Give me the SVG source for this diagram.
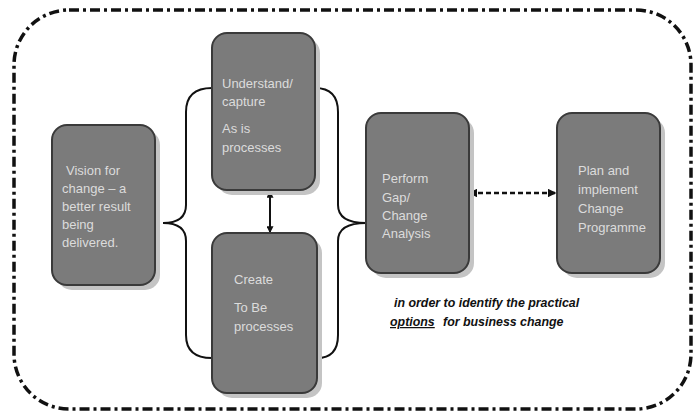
<svg xmlns="http://www.w3.org/2000/svg" width="694" height="413" viewBox="0 0 694 413">
<style>
.box{fill:#7b7b7b;stroke:#3a3a3a;stroke-width:2}
.sh{fill:#c4c4c4}
.t{font-family:"Liberation Sans",Arial,sans-serif;font-size:13px;fill:#dcdcdc}
.note{font-family:"Liberation Sans",Arial,sans-serif;font-size:12.4px;font-weight:bold;font-style:italic;fill:#111}
.br{fill:none;stroke:#111;stroke-width:2}
</style>
<defs>
<marker id="ah" viewBox="0 0 6 6" refX="5" refY="3" markerWidth="3.5" markerHeight="3.5" orient="auto-start-reverse">
<path d="M0,0 L6,3 L0,6 Z" fill="#111"/>
</marker>
</defs>
<rect x="14" y="10" width="677" height="399" rx="55" ry="55" fill="none" stroke="#111" stroke-width="3.5" stroke-dasharray="10 4 3 4"/>
<g id="connectors">
<path class="br" d="M212,88 Q186,88 186,112 L186,205 Q186,223 163,223 Q186,223 186,241 L186,335 Q186,358 212,358"/>
<path class="br" d="M315,88 Q338,88 338,112 L338,205 Q338,223 366,223 Q338,223 338,241 L338,335 Q338,358 317,358"/>
<line x1="270" y1="192" x2="270" y2="232" stroke="#111" stroke-width="2" marker-start="url(#ah)" marker-end="url(#ah)"/>
<line x1="470" y1="193" x2="555" y2="193" stroke="#111" stroke-width="2.5" stroke-dasharray="5 3" marker-start="url(#ah)" marker-end="url(#ah)"/>
</g>
<g id="vision">
<rect class="sh" x="57" y="130" width="103" height="160" rx="15"/>
<rect class="box" x="52" y="125" width="103" height="160" rx="15"/>
<text class="t" x="66" y="175">Vision for</text>
<text class="t" x="62" y="193">change  – a</text>
<text class="t" x="62" y="211">better result</text>
<text class="t" x="62" y="229">being</text>
<text class="t" x="62" y="247">delivered.</text>
</g>
<g id="understand">
<rect class="sh" x="217" y="38" width="103" height="157" rx="15"/>
<rect class="box" x="212" y="33" width="103" height="157" rx="15"/>
<text class="t" x="222" y="88">Understand/</text>
<text class="t" x="222" y="106">capture</text>
<text class="t" x="222" y="133">As is</text>
<text class="t" x="222" y="152">processes</text>
</g>
<g id="create">
<rect class="sh" x="217" y="238" width="105" height="160" rx="15"/>
<rect class="box" x="212" y="233" width="105" height="160" rx="15"/>
<text class="t" x="234" y="284">Create</text>
<text class="t" x="234" y="312">To Be</text>
<text class="t" x="234" y="331">processes</text>
</g>
<g id="perform">
<rect class="sh" x="371" y="118" width="103" height="160" rx="15"/>
<rect class="box" x="366" y="113" width="103" height="160" rx="15"/>
<text class="t" x="382" y="183">Perform</text>
<text class="t" x="382" y="202">Gap/</text>
<text class="t" x="382" y="220">Change</text>
<text class="t" x="382" y="238">Analysis</text>
</g>
<g id="plan">
<rect class="sh" x="562" y="118" width="103" height="160" rx="15"/>
<rect class="box" x="557" y="113" width="103" height="160" rx="15"/>
<text class="t" x="578" y="175">Plan and</text>
<text class="t" x="578" y="194">implement</text>
<text class="t" x="578" y="213">Change</text>
<text class="t" x="578" y="232">Programme</text>
</g>
<g id="note">
<text class="note" x="394" y="307">in order to identify the practical</text>
<text class="note" x="390" y="326"><tspan text-decoration="underline">options</tspan><tspan x="443">for business change</tspan></text>
</g>
</svg>
